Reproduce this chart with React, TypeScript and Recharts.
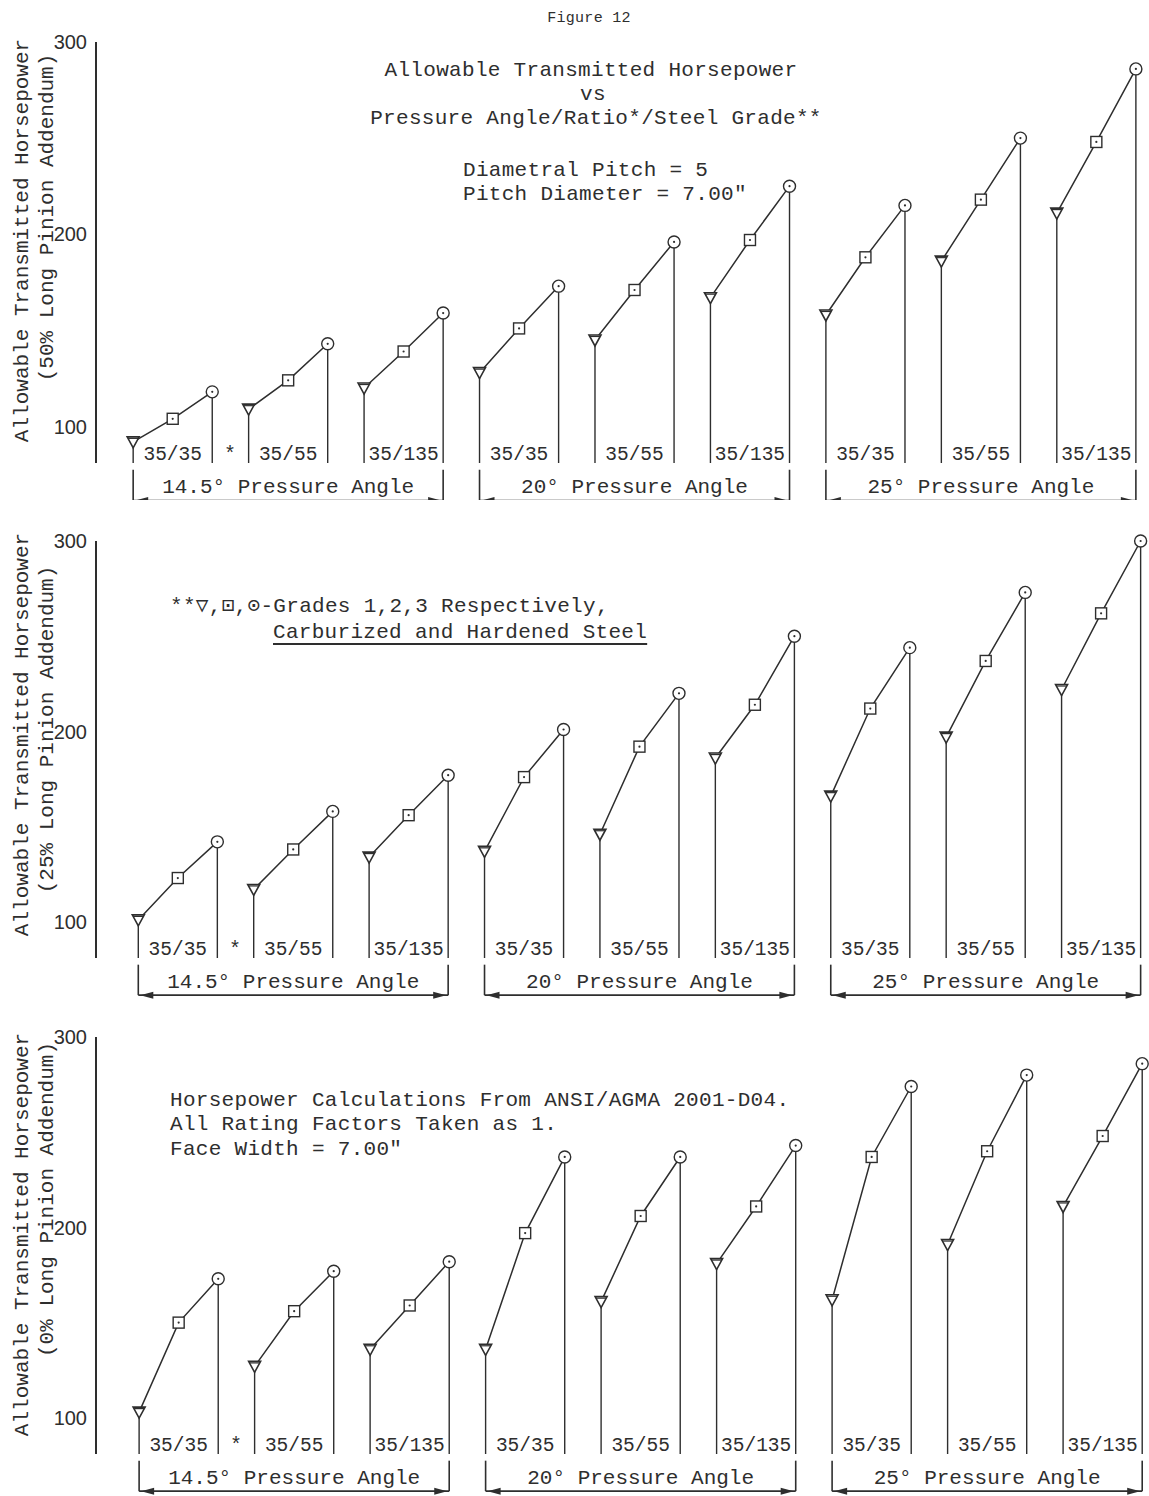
import React from 'react';
import { LineChart, Line, XAxis, YAxis, ReferenceLine, ReferenceDot, Label } from 'recharts';

const RATIOS = ['35/35', '35/55', '35/135'];
const ANGLES = ['14.5° Pressure Angle', '20° Pressure Angle', '25° Pressure Angle'];
const Y_TICKS = [100, 200, 300];

// 50% long pinion addendum, grades 1/2/3, nine angle/ratio groups
const HP50_GRADE1 = [92, 109, 120, 128, 145, 167, 158, 186, 211];
const HP50_GRADE2 = [104, 124, 139, 151, 171, 197, 188, 218, 248];
const HP50_GRADE3 = [118, 143, 159, 173, 196, 225, 215, 250, 286];

// 25% long pinion addendum
const HP25_GRADE1 = [101, 117, 134, 137, 146, 186, 166, 197, 222];
const HP25_GRADE2 = [123, 138, 156, 176, 192, 214, 212, 237, 262];
const HP25_GRADE3 = [142, 158, 177, 201, 220, 250, 244, 273, 300];

// 0% long pinion addendum
const HP0_GRADE1 = [103, 127, 136, 136, 161, 181, 162, 191, 211];
const HP0_GRADE2 = [150, 156, 159, 197, 206, 211, 237, 240, 248];
const HP0_GRADE3 = [173, 177, 182, 237, 237, 243, 274, 280, 286];

const INK = '#2e2e2e';
const MONO = "'Liberation Mono', 'DejaVu Sans Mono', monospace";
const SANS = "'Liberation Sans', Arial, sans-serif";
const W = 1149;
const Y_MIN = 81;
const Y_MAX = 300;
const GROUP_PITCH = 2.92;
const BRACKET_TOP = Y_MIN - 3.5;
const BRACKET_BOTTOM = Y_MIN - 19.5;

const groupX = (g: number) => g * GROUP_PITCH;

function Marker(props: any) {
  const { cx, cy, index } = props;
  if (cx == null || cy == null) return null;
  if (index === 0) {
    return (
      <g key={`m${index}`}>
        <polygon
          points={`${cx - 6},${cy - 5} ${cx + 6},${cy - 5} ${cx},${cy + 6}`}
          fill="#fff"
          stroke={INK}
          strokeWidth={1.6}
        />
        <line x1={cx - 5} y1={cy - 3.5} x2={cx + 5} y2={cy - 3.5} stroke={INK} strokeWidth={1.2} />
      </g>
    );
  }
  if (index === 1) {
    return (
      <g key={`m${index}`}>
        <rect x={cx - 5.5} y={cy - 5.5} width={11} height={11} fill="#fff" stroke={INK} strokeWidth={1.4} />
        <circle cx={cx} cy={cy} r={1.1} fill={INK} />
      </g>
    );
  }
  return (
    <g key={`m${index}`}>
      <circle cx={cx} cy={cy} r={6} fill="#fff" stroke={INK} strokeWidth={1.4} />
      <circle cx={cx} cy={cy} r={1.1} fill={INK} />
    </g>
  );
}

function BracketBase(props: any) {
  const { x1, y1, x2, y2 } = props;
  const a = 13;
  const h = 3.5;
  return (
    <g>
      <line x1={x1} y1={y1} x2={x2} y2={y2} stroke={INK} strokeWidth={1.6} />
      <path d={`M${x1 + 2},${y1} l${a},${-h} l0,${2 * h} z`} fill={INK} />
      <path d={`M${x2 - 2},${y2} l${-a},${-h} l0,${2 * h} z`} fill={INK} />
    </g>
  );
}

type PanelProps = {
  height: number;
  margin: { top: number; right: number; bottom: number; left: number };
  xDomain: [number, number];
  grade1: number[];
  grade2: number[];
  grade3: number[];
  subtitle: string;
  titleShift: number;
  subShift: number;
};

function Panel({ height, margin, xDomain, grade1, grade2, grade3, subtitle, titleShift, subShift }: PanelProps) {
  const groups = grade1.map((v, g) => [
    { x: groupX(g), y: v },
    { x: groupX(g) + 1, y: grade2[g] },
    { x: groupX(g) + 2, y: grade3[g] },
  ]);

  const axisTitle = (p: any) => {
    const vb = p.viewBox;
    const cy = vb.y + vb.height / 2;
    return (
      <g fill={INK} fontFamily={MONO} fontSize={21}>
        <text x={22} y={cy + titleShift} transform={`rotate(-90 22 ${cy + titleShift})`} textAnchor="middle" dominantBaseline="central">
          Allowable Transmitted Horsepower
        </text>
        <text x={47} y={cy + subShift} transform={`rotate(-90 47 ${cy + subShift})`} textAnchor="middle" dominantBaseline="central">
          {subtitle}
        </text>
      </g>
    );
  };

  return (
    <LineChart width={W} height={height} margin={margin}>
      <XAxis
        type="number"
        dataKey="x"
        domain={xDomain}
        height={0}
        tick={false}
        tickLine={false}
        axisLine={{ stroke: INK, strokeWidth: 2 }}
      />
      <YAxis
        type="number"
        domain={[Y_MIN, Y_MAX]}
        ticks={Y_TICKS}
        width={96}
        tickLine={false}
        tickMargin={3}
        axisLine={{ stroke: INK, strokeWidth: 2 }}
        tick={{ fill: INK, fontSize: 20, fontFamily: SANS }}
      >
        <Label content={axisTitle} />
      </YAxis>

      {groups.map((pts, g) => (
        <ReferenceLine
          key={`s0-${g}`}
          segment={[{ x: pts[0].x, y: Y_MIN }, { x: pts[0].x, y: pts[0].y }]}
          stroke={INK}
          strokeWidth={1.4}
        />
      ))}
      {groups.map((pts, g) => (
        <ReferenceLine
          key={`s2-${g}`}
          segment={[{ x: pts[2].x, y: Y_MIN }, { x: pts[2].x, y: pts[2].y }]}
          stroke={INK}
          strokeWidth={1.4}
        />
      ))}

      {groups.map((pts, g) => (
        <Line
          key={`g${g}`}
          data={pts}
          dataKey="y"
          stroke={INK}
          strokeWidth={1.5}
          dot={Marker}
          activeDot={false}
          isAnimationActive={false}
        />
      ))}

      {groups.map((pts, g) => (
        <ReferenceDot
          key={`r${g}`}
          x={pts[1].x}
          y={Y_MIN}
          r={0}
          fill="none"
          stroke="none"
          label={{ value: RATIOS[g % 3], position: 'top', offset: 3, fill: INK, fontSize: 19.5, fontFamily: MONO }}
        />
      ))}
      <ReferenceDot
        x={groups[0][2].x + 0.45}
        y={Y_MIN}
        r={0}
        fill="none"
        stroke="none"
        label={{ value: '*', position: 'top', offset: 3, fill: INK, fontSize: 20, fontFamily: MONO }}
      />

      {ANGLES.map((name, a) => {
        const x1 = groups[a * 3][0].x;
        const x2 = groups[a * 3 + 2][2].x;
        return (
          <React.Fragment key={`b${a}`}>
            <ReferenceLine
              segment={[{ x: x1, y: BRACKET_TOP }, { x: x1, y: BRACKET_BOTTOM }]}
              ifOverflow="visible"
              stroke={INK}
              strokeWidth={1.6}
            />
            <ReferenceLine
              segment={[{ x: x2, y: BRACKET_TOP }, { x: x2, y: BRACKET_BOTTOM }]}
              ifOverflow="visible"
              stroke={INK}
              strokeWidth={1.6}
            />
            <ReferenceLine
              segment={[{ x: x1, y: BRACKET_BOTTOM }, { x: x2, y: BRACKET_BOTTOM }]}
              ifOverflow="visible"
              shape={BracketBase}
            />
            <ReferenceDot
              x={(x1 + x2) / 2}
              y={BRACKET_BOTTOM}
              r={0}
              fill="none"
              stroke="none"
              ifOverflow="visible"
              label={{ value: name, position: 'top', offset: 7, fill: INK, fontSize: 21, fontFamily: MONO }}
            />
          </React.Fragment>
        );
      })}
    </LineChart>
  );
}

const note: React.CSSProperties = {
  position: 'absolute',
  fontFamily: MONO,
  fontSize: 21,
  lineHeight: '21px',
  color: INK,
  whiteSpace: 'pre',
  letterSpacing: 0.3,
};

function Centered({ x, y, size = 21, children }: { x: number; y: number; size?: number; children: React.ReactNode }) {
  return (
    <div style={{ ...note, fontSize: size, lineHeight: `${size}px`, left: x - 400, width: 800, textAlign: 'center', top: y - size / 2 }}>
      {children}
    </div>
  );
}

function Left({ x, y, children, style }: { x: number; y: number; children: React.ReactNode; style?: React.CSSProperties }) {
  return <div style={{ ...note, left: x, top: y - 10.5, ...style }}>{children}</div>;
}

export default function App() {
  return (
    <div style={{ position: 'absolute', left: 0, top: 0, width: W, height: 1496, background: '#fff', overflow: 'hidden' }}>
      <div style={{ position: 'absolute', left: 0, top: 0 }}>
        <Panel
          height={500}
          margin={{ top: 42, right: 6, bottom: 37, left: 0 }}
          xDomain={[-0.94, 25.54]}
          grade1={HP50_GRADE1}
          grade2={HP50_GRADE2}
          grade3={HP50_GRADE3}
          subtitle="(50% Long Pinion Addendum)"
          titleShift={-12}
          subShift={-35}
        />
      </div>
      <div style={{ position: 'absolute', left: 0, top: 500 }}>
        <Panel
          height={500}
          margin={{ top: 41, right: 6, bottom: 42, left: 0 }}
          xDomain={[-1.07, 25.42]}
          grade1={HP25_GRADE1}
          grade2={HP25_GRADE2}
          grade3={HP25_GRADE3}
          subtitle="(25% Long Pinion Addendum)"
          titleShift={-15}
          subShift={-20}
        />
      </div>
      <div style={{ position: 'absolute', left: 0, top: 1000 }}>
        <Panel
          height={496}
          margin={{ top: 37, right: 6, bottom: 42, left: 0 }}
          xDomain={[-1.09, 25.38]}
          grade1={HP0_GRADE1}
          grade2={HP0_GRADE2}
          grade3={HP0_GRADE3}
          subtitle="(0% Long Pinion Addendum)"
          titleShift={-11}
          subShift={-46}
        />
      </div>

      <Centered x={589} y={18} size={15}>Figure 12</Centered>
      <Centered x={591} y={70}>Allowable Transmitted Horsepower</Centered>
      <Centered x={593} y={94}>vs</Centered>
      <Centered x={596} y={118}>Pressure Angle/Ratio*/Steel Grade**</Centered>
      <Left x={463} y={170}>Diametral Pitch = 5</Left>
      <Left x={463} y={194}>Pitch Diameter = 7.00"</Left>

      <Left x={170} y={606}>**▽,⊡,⊙-Grades 1,2,3 Respectively,</Left>
      <Left x={273} y={632} style={{ textDecoration: 'underline', textUnderlineOffset: 5, textDecorationThickness: 1.5 }}>
        Carburized and Hardened Steel
      </Left>

      <Left x={170} y={1100}>Horsepower Calculations From ANSI/AGMA 2001-D04.</Left>
      <Left x={170} y={1124}>All Rating Factors Taken as 1.</Left>
      <Left x={170} y={1149}>Face Width = 7.00"</Left>
    </div>
  );
}
